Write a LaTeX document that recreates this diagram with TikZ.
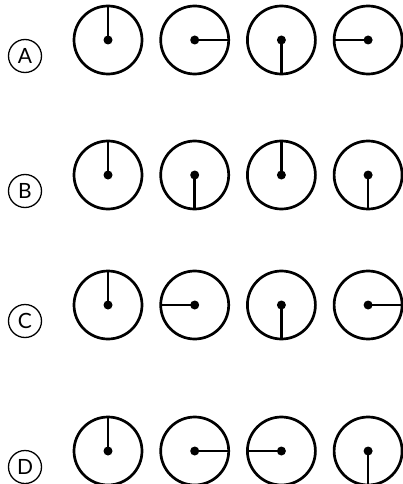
\documentclass[tikz,border=0pt]{standalone}
\usepackage{fontspec}
\setsansfont{Lato}
\usepackage{tikz}
\usetikzlibrary{positioning}
\tikzset{
  dial/.style={circle,draw,line width=2.7pt,minimum size=68pt,inner sep=0pt,outer sep=0pt},
  hand/.style={line width=2.6pt},
  pick/.style={circle,draw,line width=1.3pt,minimum size=33pt,inner sep=0pt,
    font=\sffamily\fontsize{21}{21}\selectfont}
}

\begin{document}
\begin{tikzpicture}[x=1pt,y=-1pt]
\useasboundingbox (0,0) rectangle (403,484);
% one row per answer: letter, height, hand directions
\foreach \ans/\yy/\dirs in {A/40/{north,east,south,west},B/175/{north,south,north,south},C/305/{north,west,south,east},D/451/{north,east,west,south}}{
  \node[pick] (opt\ans) at (25,\yy+16) {\ans};
  \foreach \d [count=\i] in \dirs{
    \node[dial] (dial\ans\i) at (108+86.7*\i-86.7,\yy) {};
    \draw[hand] (dial\ans\i.center) -- (dial\ans\i.\d);
    \fill (dial\ans\i.center) circle (4.5pt);
  }
}
\end{tikzpicture}
\end{document}
